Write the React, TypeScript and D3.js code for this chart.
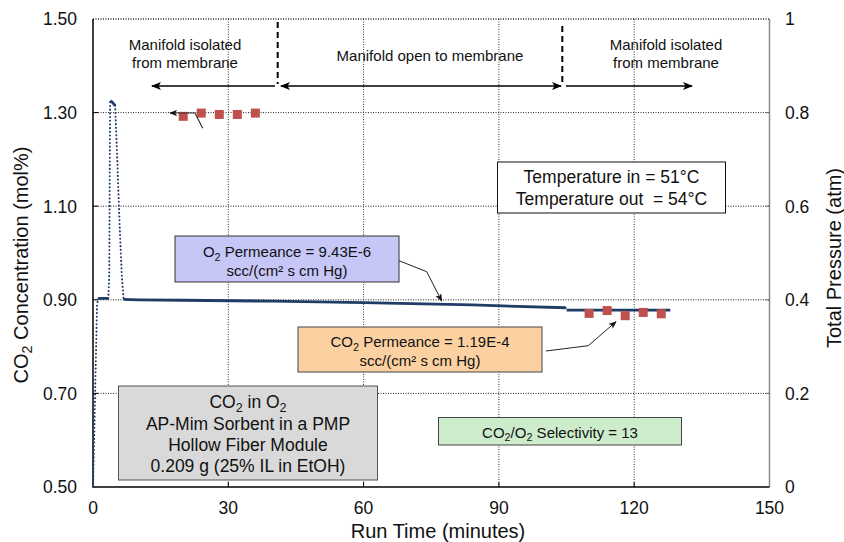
import React from 'react';
import * as d3 from 'd3';

// CO2 concentration trace (run time in minutes, mol%)
const runTime = [0, 0.3, 0.6, 0.9, 1.2, 3.4, 3.6, 3.7, 3.8, 4.3, 4.9, 5.3, 5.9, 6.4, 6.8, 10, 20, 40, 60, 84, 104.8, 105.0, 116, 128];
const co2Conc = [0.5, 0.62, 0.76, 0.89, 0.903, 0.903, 0.95, 1.15, 1.325, 1.322, 1.315, 1.22, 1.06, 0.95, 0.901, 0.9, 0.899, 0.897, 0.894, 0.889, 0.883, 0.878, 0.878, 0.878];

// Sampled CO2 readings (red squares)
const sampleTime = [20, 24, 28, 32, 36, 110, 114, 118, 122, 126];
const sampleConc = [1.292, 1.299, 1.296, 1.296, 1.299, 0.871, 0.877, 0.866, 0.873, 0.87];

const xTicks = [0, 30, 60, 90, 120, 150];
const yTicks = [0.5, 0.7, 0.9, 1.1, 1.3, 1.5];
const pTicks = [0, 0.2, 0.4, 0.6, 0.8, 1];

const FONT = '"Liberation Sans", Arial, Helvetica, sans-serif';
const LINE = '#1f3d66';
const SQUARE = '#c0504d';

const W = 844;
const H = 542;
const L = 93;
const R = 769.5;
const T = 19;
const B = 487;

// Renders text runs; a run wrapped as ['2'] is drawn as a subscript.
function Rich({ parts }: { parts: (string | string[])[] }) {
  const out: React.ReactNode[] = [];
  let shifted = false;
  parts.forEach((p, i) => {
    if (Array.isArray(p)) {
      out.push(
        <tspan key={i} dy={shifted ? 0 : 3.5} fontSize="0.72em">{p[0]}</tspan>
      );
      shifted = true;
    } else {
      out.push(
        <tspan key={i} dy={shifted ? -3.5 : 0}>{p}</tspan>
      );
      shifted = false;
    }
  });
  return <>{out}</>;
}

export default function App() {
  const x = d3.scaleLinear().domain([0, 150]).range([L, R]);
  const y = d3.scaleLinear().domain([0.5, 1.5]).range([B, T]);
  const yP = d3.scaleLinear().domain([0, 1]).range([B, T]);

  const pts = runTime.map((t, i) => [x(t), y(co2Conc[i])] as [number, number]);
  const segs: { d: string; dotted: boolean }[] = [];
  // steep jumps were logged sparsely, so they show as dots; the rest is dense
  let cur: [number, number][] = [pts[0]];
  let curDotted: boolean | null = null;
  for (let i = 1; i < pts.length; i++) {
    const dx = Math.abs(pts[i][0] - pts[i - 1][0]);
    const dy = Math.abs(pts[i][1] - pts[i - 1][1]);
    const dotted = dy > dx * 2.5;
    if (curDotted === null || dotted === curDotted) {
      cur.push(pts[i]);
      curDotted = dotted;
    } else {
      segs.push({ d: d3.line()(cur) || '', dotted: curDotted });
      cur = [pts[i - 1], pts[i]];
      curDotted = dotted;
    }
  }
  segs.push({ d: d3.line()(cur) || '', dotted: !!curDotted });

  const sq = 9;

  return (
    <svg width={W} height={H} style={{ position: 'absolute', left: 0, top: 0, background: '#fff' }} fontFamily={FONT}>
      <defs>
        <marker id="arrow" viewBox="0 0 10 8" refX="9" refY="4" markerWidth="10" markerHeight="8" markerUnits="userSpaceOnUse" orient="auto-start-reverse">
          <path d="M0,0 L10,4 L0,8 L2.5,4 z" fill="#000" />
        </marker>
        <marker id="arrowSm" viewBox="0 0 10 8" refX="9" refY="4" markerWidth="8" markerHeight="6.5" markerUnits="userSpaceOnUse" orient="auto-start-reverse">
          <path d="M0,0 L10,4 L0,8 L2.5,4 z" fill="#111" />
        </marker>
      </defs>

      {/* gridlines */}
      {xTicks.slice(1, -1).map((t) => (
        <line key={'gx' + t} x1={x(t)} x2={x(t)} y1={T} y2={B} stroke="#333" strokeWidth={1} strokeDasharray="1 1.5" />
      ))}
      {yTicks.slice(1).map((v) => (
        <line key={'gy' + v} x1={L} x2={R} y1={y(v)} y2={y(v)} stroke="#222" strokeWidth={v === 1.5 ? 1.6 : 1} strokeDasharray="1 1.5" />
      ))}

      {/* axes */}
      <line x1={R} x2={R} y1={T} y2={B} stroke="#8a8a8a" strokeWidth={1.5} />
      <line x1={L} x2={L} y1={T} y2={B} stroke="#000" strokeWidth={1.5} />
      <line x1={L} x2={R} y1={B} y2={B} stroke="#000" strokeWidth={1.5} />
      {xTicks.slice(1, -1).map((t) => (
        <line key={'tx' + t} x1={x(t)} x2={x(t)} y1={B} y2={B - 5} stroke="#000" strokeWidth={1} />
      ))}
      {yTicks.slice(1, -1).map((v) => (
        <line key={'ty' + v} x1={L} x2={L + 5} y1={y(v)} y2={y(v)} stroke="#000" strokeWidth={1} />
      ))}
      {pTicks.slice(1, -1).map((v) => (
        <line key={'tp' + v} x1={R - 4} x2={R} y1={yP(v)} y2={yP(v)} stroke="#666" strokeWidth={1} />
      ))}

      {/* tick labels */}
      {yTicks.map((v) => (
        <text key={'ly' + v} x={77} y={y(v) + 6.3} fontSize={17.5} textAnchor="end" fill="#111">{v.toFixed(2)}</text>
      ))}
      {xTicks.map((t) => (
        <text key={'lx' + t} x={x(t)} y={514} fontSize={17.5} textAnchor="middle" fill="#111">{t}</text>
      ))}
      {pTicks.map((v) => (
        <text key={'lp' + v} x={785} y={yP(v) + 6.3} fontSize={17.5} textAnchor="start" fill="#111">{String(v)}</text>
      ))}

      {/* axis titles */}
      <text x={438} y={538} fontSize={20} textAnchor="middle" fill="#111">Run Time (minutes)</text>
      <text transform="translate(28,265) rotate(-90)" fontSize={20} textAnchor="middle" fill="#111">
        <Rich parts={['CO', ['2'], ' Concentration (mol%)']} />
      </text>
      <text transform="translate(841,258) rotate(-90)" fontSize={20} textAnchor="middle" fill="#111">Total Pressure (atm)</text>

      {/* CO2 trace */}
      {segs.map((s, i) =>
        s.dotted ? (
          <path key={'s' + i} d={s.d} fill="none" stroke={LINE} strokeWidth={2} strokeLinecap="round" strokeDasharray="0.1 3.6" />
        ) : (
          <path key={'s' + i} d={s.d} fill="none" stroke={LINE} strokeWidth={2.8} strokeLinejoin="round" />
        )
      )}

      {/* sampled readings */}
      {sampleTime.map((t, i) => (
        <rect key={'q' + i} x={x(t) - sq / 2} y={y(sampleConc[i]) - sq / 2} width={sq} height={sq} fill={SQUARE} />
      ))}

      {/* manifold phases */}
      <line x1={277.7} x2={277.7} y1={22} y2={84} stroke="#000" strokeWidth={2} strokeDasharray="6 4" />
      <line x1={562.3} x2={562.3} y1={26} y2={84} stroke="#000" strokeWidth={2} strokeDasharray="6 4" />
      <line x1={275} x2={152} y1={86} y2={86} stroke="#000" strokeWidth={1.6} markerEnd="url(#arrow)" />
      <line x1={281} x2={561} y1={86} y2={86} stroke="#000" strokeWidth={1.6} markerStart="url(#arrow)" markerEnd="url(#arrow)" />
      <line x1={566} x2={692} y1={86} y2={86} stroke="#000" strokeWidth={1.6} markerEnd="url(#arrow)" />
      <g fontSize={15} textAnchor="middle" fill="#111">
        <text x={185} y={49.5}>Manifold isolated</text>
        <text x={185} y={67.5}>from membrane</text>
        <text x={430} y={60.5}>Manifold open to membrane</text>
        <text x={666} y={49.5}>Manifold isolated</text>
        <text x={666} y={67.5}>from membrane</text>
      </g>

      {/* leader near first readings */}
      <polyline points="202.7,128.3 195,113 170,113" fill="none" stroke="#333" strokeWidth={1.2} markerEnd="url(#arrowSm)" />

      {/* temperature box */}
      <rect x={497.5} y={162} width={228} height={51} fill="#fff" stroke="#111" strokeWidth={1} />
      <g fontSize={17.5} textAnchor="middle" fill="#111">
        <text x={611.5} y={183}>Temperature in = 51°C</text>
        <text x={611.5} y={204.5}>{'Temperature out\u00A0 = 54°C'}</text>
      </g>

      {/* O2 permeance */}
      <polyline points="399,260.7 426.7,271.7 441.7,301" fill="none" stroke="#222" strokeWidth={1} markerEnd="url(#arrowSm)" />
      <rect x={175} y={236} width={224} height={46} fill="#c6c6f7" stroke="#333" strokeWidth={1} />
      <g fontSize={15} textAnchor="middle" fill="#111">
        <text x={287} y={257}><Rich parts={['O', ['2'], ' Permeance = 9.43E-6']} /></text>
        <text x={287} y={275.5}>scc/(cm² s cm Hg)</text>
      </g>

      {/* CO2 permeance */}
      <polyline points="546,351 588.3,345.7 616,321.7" fill="none" stroke="#222" strokeWidth={1} markerEnd="url(#arrowSm)" />
      <rect x={298} y={327} width={244} height={45} fill="#fcd1a2" stroke="#444" strokeWidth={1} />
      <g fontSize={15} textAnchor="middle" fill="#111">
        <text x={420} y={347}><Rich parts={['CO', ['2'], ' Permeance = 1.19E-4']} /></text>
        <text x={420} y={365.5}>scc/(cm² s cm Hg)</text>
      </g>

      {/* experiment description */}
      <rect x={118.5} y={386} width={259} height={94} fill="#d9d9d9" stroke="#555" strokeWidth={1} />
      <g fontSize={17.5} textAnchor="middle" fill="#111">
        <text x={248} y={408}><Rich parts={['CO', ['2'], ' in O', ['2']]} /></text>
        <text x={248} y={429.5}>AP-Mim Sorbent in a PMP</text>
        <text x={248} y={450.5}>Hollow Fiber Module</text>
        <text x={248} y={472}>0.209 g (25% IL in EtOH)</text>
      </g>

      {/* selectivity */}
      <rect x={438.5} y={417.5} width={243} height={27.5} fill="#cdeccc" stroke="#444" strokeWidth={1} />
      <text x={560} y={437.5} fontSize={15} textAnchor="middle" fill="#111">
        <Rich parts={['CO', ['2'], '/O', ['2'], ' Selectivity = 13']} />
      </text>
    </svg>
  );
}
